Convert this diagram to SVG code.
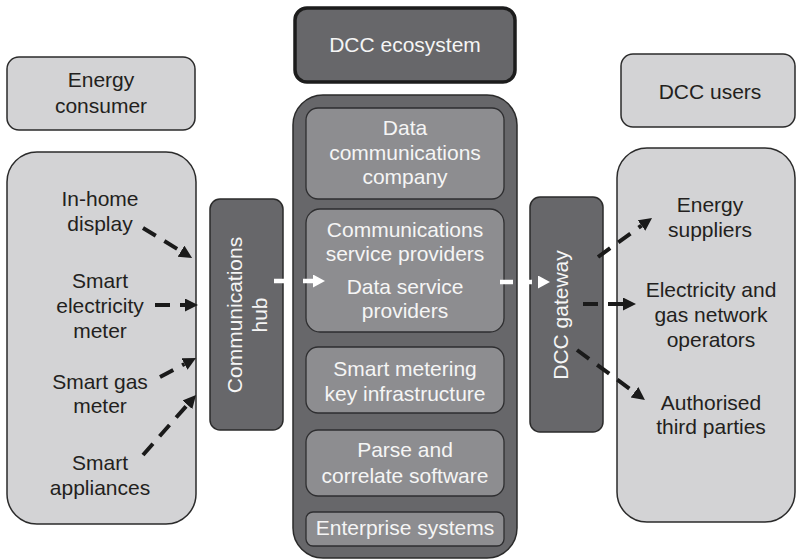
<svg xmlns="http://www.w3.org/2000/svg" width="797" height="560" viewBox="0 0 797 560">
<style>
.light{fill:#d3d3d5;stroke:#2b2b2b;stroke-width:1.5}
.dark{fill:#67676a;stroke:#2b2b2b;stroke-width:1.5}
.inner{fill:#8d8d90;stroke:#2e2e30;stroke-width:1.3}
.eco{fill:#67676a;stroke:#1c1c1c;stroke-width:3.5}
text{font-family:"Liberation Sans",Arial,sans-serif;font-size:21px;text-anchor:middle}
.t{fill:#231f20}
.w{fill:#f5f5f5}
.blk{stroke:#1a1a1a;stroke-width:4;stroke-dasharray:15 10;fill:none}
.wht{stroke:#ffffff;stroke-width:4.5;fill:none}
</style>
<defs>
<marker id="hb" markerUnits="userSpaceOnUse" markerWidth="14" markerHeight="14" refX="0" refY="6.5" orient="auto">
<path d="M0,0 L13,6.5 L0,13 z" fill="#1a1a1a"/>
</marker>
<marker id="hw" markerUnits="userSpaceOnUse" markerWidth="14" markerHeight="14" refX="0" refY="6.5" orient="auto">
<path d="M0,0 L12,6.5 L0,13 z" fill="#ffffff"/>
</marker>
</defs>
<rect width="797" height="560" fill="#ffffff"/>

<g id="energy-consumer">
<rect class="light" x="7" y="57" width="188" height="73" rx="12"/>
<text class="t" x="101" y="87">Energy</text>
<text class="t" x="101" y="113">consumer</text>
</g>

<g id="consumer-devices">
<rect class="light" x="7" y="152" width="189" height="372" rx="30"/>
<text class="t" x="100" y="206">In-home</text>
<text class="t" x="100" y="231">display</text>
<text class="t" x="100" y="288">Smart</text>
<text class="t" x="100" y="313">electricity</text>
<text class="t" x="100" y="338">meter</text>
<text class="t" x="100" y="389">Smart gas</text>
<text class="t" x="100" y="413">meter</text>
<text class="t" x="100" y="470">Smart</text>
<text class="t" x="100" y="495">appliances</text>
</g>

<g id="communications-hub">
<rect class="dark" x="210" y="199" width="73" height="231" rx="10"/>
<text class="w" transform="translate(242,315) rotate(-90)">Communications</text>
<text class="w" transform="translate(267,315) rotate(-90)">hub</text>
</g>

<g id="dcc-ecosystem">
<rect class="eco" x="295" y="8" width="220" height="74" rx="12"/>
<text class="w" x="405" y="52">DCC ecosystem</text>
</g>

<g id="dcc-core">
<rect class="dark" x="293" y="95" width="224" height="463" rx="30"/>
</g>

<g id="data-communications-company">
<rect class="inner" x="306" y="108" width="198" height="91" rx="12"/>
<text class="w" x="405" y="135">Data</text>
<text class="w" x="405" y="160">communications</text>
<text class="w" x="405" y="184">company</text>
</g>

<g id="service-providers">
<rect class="inner" x="306" y="209" width="198" height="123" rx="14"/>
<text class="w" x="405" y="237">Communications</text>
<text class="w" x="405" y="261">service providers</text>
<text class="w" x="405" y="294">Data service</text>
<text class="w" x="405" y="318">providers</text>
</g>

<g id="smart-metering-key-infrastructure">
<rect class="inner" x="306" y="347" width="198" height="66" rx="12"/>
<text class="w" x="405" y="376">Smart metering</text>
<text class="w" x="405" y="401">key infrastructure</text>
</g>

<g id="parse-and-correlate">
<rect class="inner" x="306" y="430" width="198" height="66" rx="12"/>
<text class="w" x="405" y="457">Parse and</text>
<text class="w" x="405" y="483">correlate software</text>
</g>

<g id="enterprise-systems">
<rect class="inner" x="306" y="512" width="198" height="34" rx="7"/>
<text class="w" x="405" y="535">Enterprise systems</text>
</g>

<g id="dcc-gateway">
<rect class="dark" x="530" y="197" width="73" height="235" rx="10"/>
<text class="w" transform="translate(568,315) rotate(-90)">DCC gateway</text>
</g>

<g id="dcc-users">
<rect class="light" x="621" y="54" width="174" height="73" rx="12"/>
<text class="t" x="710" y="99">DCC users</text>
</g>

<g id="user-types">
<rect class="light" x="617" y="148" width="178" height="374" rx="30"/>
<text class="t" x="710" y="212">Energy</text>
<text class="t" x="710" y="237">suppliers</text>
<text class="t" x="711" y="297">Electricity and</text>
<text class="t" x="711" y="322">gas network</text>
<text class="t" x="711" y="347">operators</text>
<text class="t" x="711" y="410">Authorised</text>
<text class="t" x="711" y="434">third parties</text>
</g>

<g id="connectors">
<line class="blk" x1="143" y1="228" x2="181" y2="251.2" marker-end="url(#hb)"/>
<line class="blk" x1="155" y1="305" x2="185" y2="305" marker-end="url(#hb)"/>
<line class="blk" x1="160" y1="377" x2="184.5" y2="364.1" marker-end="url(#hb)"/>
<line class="blk" x1="143" y1="455" x2="187.4" y2="404.8" marker-end="url(#hb)"/>
<line class="wht" x1="274" y1="281" x2="313" y2="281" stroke-dasharray="12 17" marker-end="url(#hw)"/>
<line class="wht" x1="500" y1="282" x2="538" y2="282" stroke-dasharray="13 6" marker-end="url(#hw)"/>
<line class="blk" x1="598" y1="257" x2="641.5" y2="225.6" marker-end="url(#hb)"/>
<line class="blk" x1="583" y1="304" x2="623" y2="304" marker-end="url(#hb)"/>
<line class="blk" x1="577" y1="350" x2="634.5" y2="392.3" marker-end="url(#hb)"/>
</g>
</svg>
